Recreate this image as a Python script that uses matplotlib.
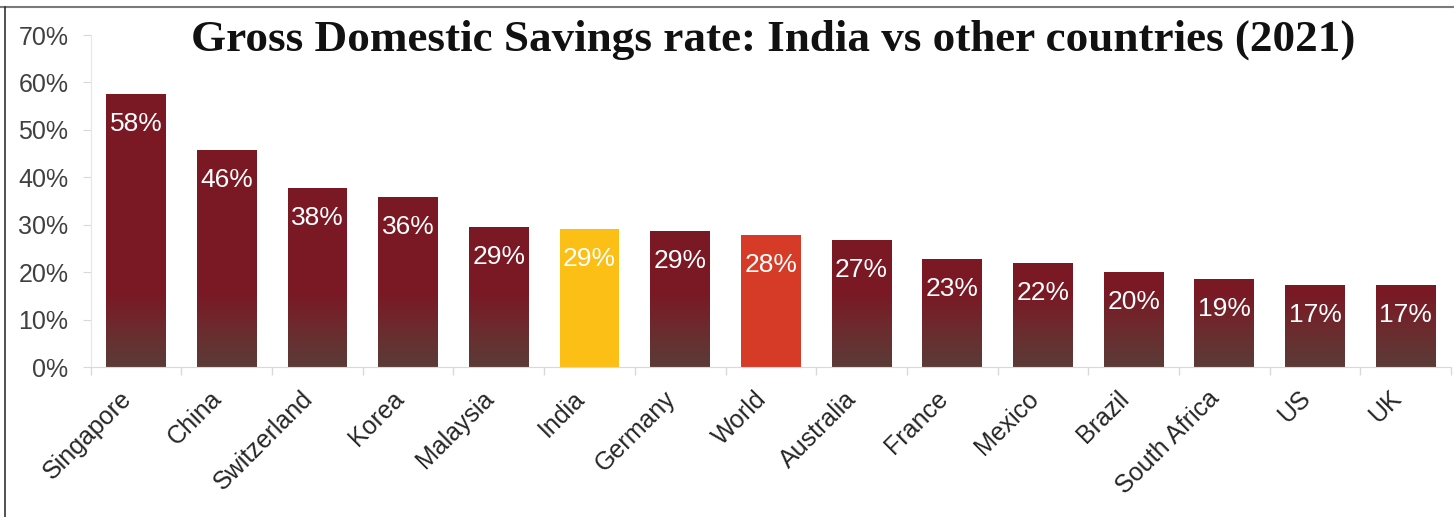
import matplotlib.pyplot as plt
import matplotlib.colors as mcolors
import numpy as np
from matplotlib.lines import Line2D

countries = ["Singapore", "China", "Switzerland", "Korea", "Malaysia", "India",
             "Germany", "World", "Australia", "France", "Mexico", "Brazil",
             "South Africa", "US", "UK"]
savings = [57.5, 45.7, 37.8, 35.8, 29.5, 29.1, 28.6, 27.9, 26.8, 22.8, 21.9,
           20.0, 18.6, 17.3, 17.3]
labels = ["58%", "46%", "38%", "36%", "29%", "29%", "29%", "28%", "27%", "23%",
          "22%", "20%", "19%", "17%", "17%"]
y_ticks = [0, 10, 20, 30, 40, 50, 60, 70]

MAROON = "#7a1824"
BROWN = "#5a3b37"
SPECIAL = {"India": "#fbbf16", "World": "#d63b27"}
GRAD_TOP = 16  # gradient runs from the base up to this value

fig = plt.figure(figsize=(14.54, 5.17), dpi=100)
ax = fig.add_axes([0.0624, 0.2901, 0.9356, 0.6422])

x = np.arange(len(countries))
colors = [SPECIAL.get(c, MAROON) for c in countries]
bars = ax.bar(x, savings, width=0.66, color=colors, zorder=2)

# vertical gradient (brown at the base -> maroon): thin slices stacked on the maroon bars
grad = mcolors.LinearSegmentedColormap.from_list("g", [BROWN, "#6c2b2e", MAROON])
edges = np.linspace(0, GRAD_TOP, 65)
slice_colors = grad((edges[:-1] + edges[1:]) / 2 / GRAD_TOP)
for i, name in enumerate(countries):
    if name in SPECIAL:
        continue
    ax.bar(np.full(64, x[i]), np.diff(edges), bottom=edges[:-1], width=0.66,
           color=slice_colors, linewidth=0, zorder=2.5)

for bar, lab in zip(bars, labels):
    ax.annotate(lab, (bar.get_x() + bar.get_width() / 2, bar.get_height()),
                xytext=(0, -21.5), textcoords="offset points", ha="center",
                va="center", color="white", fontsize=19,
                family="Liberation Sans", zorder=3)

ax.set_xlim(-0.5, len(countries) - 0.5)
ax.set_ylim(0, 70)
ax.set_yticks(y_ticks)
ax.set_yticklabels([f"{t}%" for t in y_ticks], fontsize=18, family="Liberation Sans", color="#404040")
ax.set_xticks(x)
ax.set_xticklabels(countries, rotation=45, ha="right", fontsize=18,
                   family="Liberation Sans", color="#262626")
ax.set_xticks(np.arange(-0.5, len(countries), 1), minor=True)
ax.tick_params(axis="x", which="major", length=0, pad=14)
ax.tick_params(axis="x", which="minor", length=6, color="#d9d9d9", width=1)
ax.tick_params(axis="y", length=6, color="#d9d9d9", pad=10)

for side in ["top", "right"]:
    ax.spines[side].set_visible(False)
ax.spines["left"].set_color("#e6e6e6")
ax.spines["bottom"].set_color("#d9d9d9")

fig.text(0.532, 1 - 51 / 517, "Gross Domestic Savings rate: India vs other countries (2021)",
         ha="center", va="baseline", fontsize=32.5, fontweight="bold",
         family="Liberation Serif", color="#111111")

# frame lines of the original screenshot
fig.add_artist(Line2D([0, 1], [1 - 7 / 517, 1 - 7 / 517], transform=fig.transFigure, color="#7a7a7a", lw=1.5))
fig.add_artist(Line2D([5 / 1454, 5 / 1454], [0, 1 - 7 / 517], transform=fig.transFigure, color="#333333", lw=1.2))

fig.savefig("out.png", dpi=100)
